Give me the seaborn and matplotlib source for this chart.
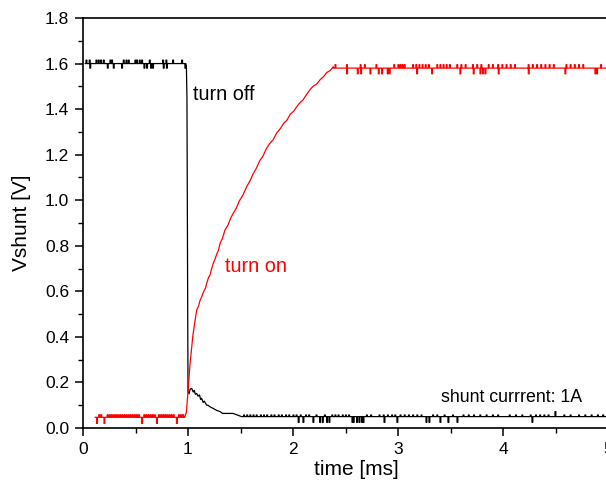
import numpy as np
import pandas as pd
import seaborn as sns
from matplotlib import pyplot as plt
from matplotlib.ticker import MultipleLocator, FormatStrFormatter

# --- turn off (black) ---
off_top_level = 1.60
off_top_up_t = [0.029, 0.06, 0.124, 0.146, 0.168, 0.194, 0.257, 0.273, 0.384, 0.41,
                0.432, 0.495, 0.511, 0.537, 0.559, 0.632, 0.759, 0.79, 0.854, 0.94]
off_top_up_v = 1.615
off_top_dn_t = [0.065, 0.232, 0.289, 0.368, 0.581, 0.606, 0.645, 0.663, 0.765, 0.795, 0.971]
off_top_dn_v = 1.58

off_edge_t = [0.975, 0.985, 0.99, 0.995, 1.0, 1.01, 1.02, 1.035, 1.05, 1.06, 1.07, 1.083,
              1.095, 1.11, 1.12, 1.13, 1.145, 1.155, 1.178, 1.19, 1.21, 1.24, 1.27, 1.305,
              1.33, 1.43, 1.51]
off_edge_v = [1.60, 1.58, 1.45, 0.80, 0.16, 0.15, 0.17, 0.174, 0.158, 0.165, 0.148, 0.152,
              0.14, 0.145, 0.125, 0.13, 0.112, 0.118, 0.10, 0.10, 0.093, 0.086, 0.078, 0.072,
              0.064, 0.064, 0.05]

off_tail_level = 0.05
off_tail_dn_t = [2.05, 2.095, 2.19, 2.254, 2.28, 2.32, 2.343, 2.562, 2.574, 2.606, 2.629,
                 2.654, 2.667, 2.867, 2.99, 3.267, 3.295, 3.40, 3.476, 3.562, 4.276]
off_tail_dn_v = 0.025
off_tail_up_t = [1.53, 1.56, 1.59, 1.62, 1.65, 1.69, 1.72, 1.75, 1.79, 1.82, 1.86, 1.89,
                 1.93, 1.96, 2.0, 2.03, 2.07, 2.12, 2.15, 2.22, 2.30, 2.37, 2.40, 2.43,
                 2.47, 2.50, 2.53, 2.70, 2.74, 2.82, 2.86, 2.90, 2.94, 2.97, 3.02, 3.06,
                 3.10, 3.14, 3.18, 3.22, 3.33, 3.37, 3.44, 3.52, 3.62, 3.67, 3.72, 3.78,
                 3.84, 3.90, 3.95, 4.06, 4.12, 4.18, 4.26, 4.31, 4.35, 4.39, 4.43, 4.58,
                 4.64, 4.72, 4.78, 4.84, 4.90, 4.95]
off_tail_up_v = 0.057
off_tail_big_t = [4.495]
off_tail_big_v = 0.072

# --- turn on (red) ---
on_base_level = 0.047
on_base_dn_t = [0.13, 0.20, 0.559, 0.70, 0.89]
on_base_dn_v = 0.02
on_base_up_t = [0.15, 0.17, 0.23, 0.25, 0.27, 0.29, 0.31, 0.33, 0.35, 0.37, 0.39, 0.41,
                0.43, 0.45, 0.47, 0.49, 0.51, 0.53, 0.58, 0.60, 0.62, 0.64, 0.66, 0.68,
                0.72, 0.74, 0.76, 0.78, 0.80, 0.82, 0.84, 0.86, 0.91, 0.93, 0.95]
on_base_up_v = 0.058

on_rise_t = [0.97, 0.985, 1.003, 1.02, 1.045, 1.06, 1.083, 1.10, 1.115, 1.13, 1.15, 1.165,
             1.178, 1.195, 1.21, 1.225, 1.241, 1.26, 1.275, 1.29, 1.305, 1.33, 1.352, 1.38,
             1.405, 1.43, 1.46, 1.49, 1.52, 1.56, 1.59, 1.62, 1.65, 1.686, 1.71, 1.745,
             1.78, 1.81, 1.845, 1.88, 1.91, 1.94, 1.975, 2.005, 2.035, 2.065, 2.095, 2.13,
             2.16, 2.19, 2.225, 2.26, 2.29, 2.32, 2.355, 2.384]
on_rise_v = [0.05, 0.07, 0.18, 0.284, 0.40, 0.45, 0.518, 0.535, 0.56, 0.576, 0.60, 0.612,
             0.635, 0.66, 0.672, 0.70, 0.723, 0.745, 0.765, 0.78, 0.81, 0.835, 0.869, 0.89,
             0.92, 0.942, 0.965, 0.998, 1.02, 1.06, 1.085, 1.115, 1.14, 1.176, 1.19, 1.225,
             1.25, 1.265, 1.295, 1.315, 1.337, 1.35, 1.378, 1.39, 1.41, 1.428, 1.44, 1.465,
             1.484, 1.50, 1.51, 1.53, 1.542, 1.56, 1.57, 1.586]

on_top_level = 1.58
on_top_dn_t = [2.511, 2.613, 2.645, 2.733, 2.813, 2.845, 2.898, 2.917, 3.178, 3.321,
               3.59, 3.717, 3.781, 3.806, 3.829, 3.955, 4.241, 4.59, 4.876, 4.892]
on_top_dn_v = 1.555
on_top_up_t = [2.40, 2.51, 2.64, 2.68, 2.79, 2.96, 3.0, 3.02, 3.04, 3.06, 3.14, 3.17,
               3.20, 3.23, 3.26, 3.29, 3.37, 3.40, 3.43, 3.46, 3.49, 3.56, 3.60, 3.64,
               3.71, 3.75, 3.79, 3.86, 3.90, 3.95, 3.99, 4.03, 4.07, 4.11, 4.24, 4.28,
               4.32, 4.36, 4.40, 4.44, 4.48, 4.60, 4.64, 4.68, 4.72, 4.76, 4.93]
on_top_up_v = 1.595

t_end = 4.99


def flat(t0, t1, base, groups, w=0.008):
    # flat stretch of a trace with narrow noise spikes
    spikes = sorted((t, v) for ts, v in groups for t in ts)
    ts, vs = [t0], [base]
    for t, v in spikes:
        ts += [t, t, t + w, t + w]
        vs += [base, v, v, base]
    ts.append(t1)
    vs.append(base)
    return ts, vs


a_t, a_v = flat(0.02, 0.975, off_top_level, [(off_top_up_t, off_top_up_v), (off_top_dn_t, off_top_dn_v)])
b_t, b_v = flat(1.51, t_end, off_tail_level, [(off_tail_up_t, off_tail_up_v), (off_tail_dn_t, off_tail_dn_v),
                                              (off_tail_big_t, off_tail_big_v)])
off_t = a_t + off_edge_t + b_t
off_v = a_v + off_edge_v + b_v

c_t, c_v = flat(0.114, 0.97, on_base_level, [(on_base_up_t, on_base_up_v), (on_base_dn_t, on_base_dn_v)])
d_t, d_v = flat(2.384, t_end, on_top_level, [(on_top_up_t, on_top_up_v), (on_top_dn_t, on_top_dn_v)])
on_t = c_t + on_rise_t + d_t
on_v = c_v + on_rise_v + d_v

df = pd.DataFrame({
    "t": off_t + on_t,
    "v": off_v + on_v,
    "trace": ["off"] * len(off_t) + ["on"] * len(on_t),
})

sns.set_style("ticks")
plt.rcParams['font.family'] = ['Liberation Sans', 'DejaVu Sans']
plt.rcParams['text.color'] = 'black'
plt.rcParams['axes.labelcolor'] = 'black'

fig = plt.figure(figsize=(6.06, 4.83), dpi=100)
ax = fig.add_axes([83 / 606, 55 / 483, 525 / 606, 410 / 483])
sns.lineplot(data=df, x="t", y="v", hue="trace", palette={"off": "black", "on": "red"},
             sort=False, estimator=None, legend=False, linewidth=0.9, ax=ax)

ax.set_xlim(0, 5)
ax.set_ylim(0, 1.8)
ax.xaxis.set_major_locator(MultipleLocator(1))
ax.xaxis.set_minor_locator(MultipleLocator(0.5))
ax.yaxis.set_major_locator(MultipleLocator(0.2))
ax.yaxis.set_minor_locator(MultipleLocator(0.1))
ax.yaxis.set_major_formatter(FormatStrFormatter("%.1f"))
ax.tick_params(which="major", direction="out", length=6, width=1.1, labelsize=12.5,
               colors="black", pad=4)
ax.tick_params(which="minor", direction="out", length=3.5, width=1.0, colors="black")
for s in ax.spines.values():
    s.set_linewidth(1.2)
    s.set_color("black")

ax.set_xlabel("time [ms]", fontsize=15)
ax.xaxis.set_label_coords(0.52, -0.078)
ax.set_ylabel("Vshunt [V]", fontsize=15, labelpad=10)

ax.text(1.048, 1.462, "turn off", fontsize=14.3, color="black", va="center")
ax.text(1.352, 0.707, "turn on", fontsize=14.3, color="red", va="center")
ax.text(3.41, 0.132, "shunt currrent: 1A", fontsize=12.8, color="black", va="center")

fig.savefig("out.png", dpi=100)
